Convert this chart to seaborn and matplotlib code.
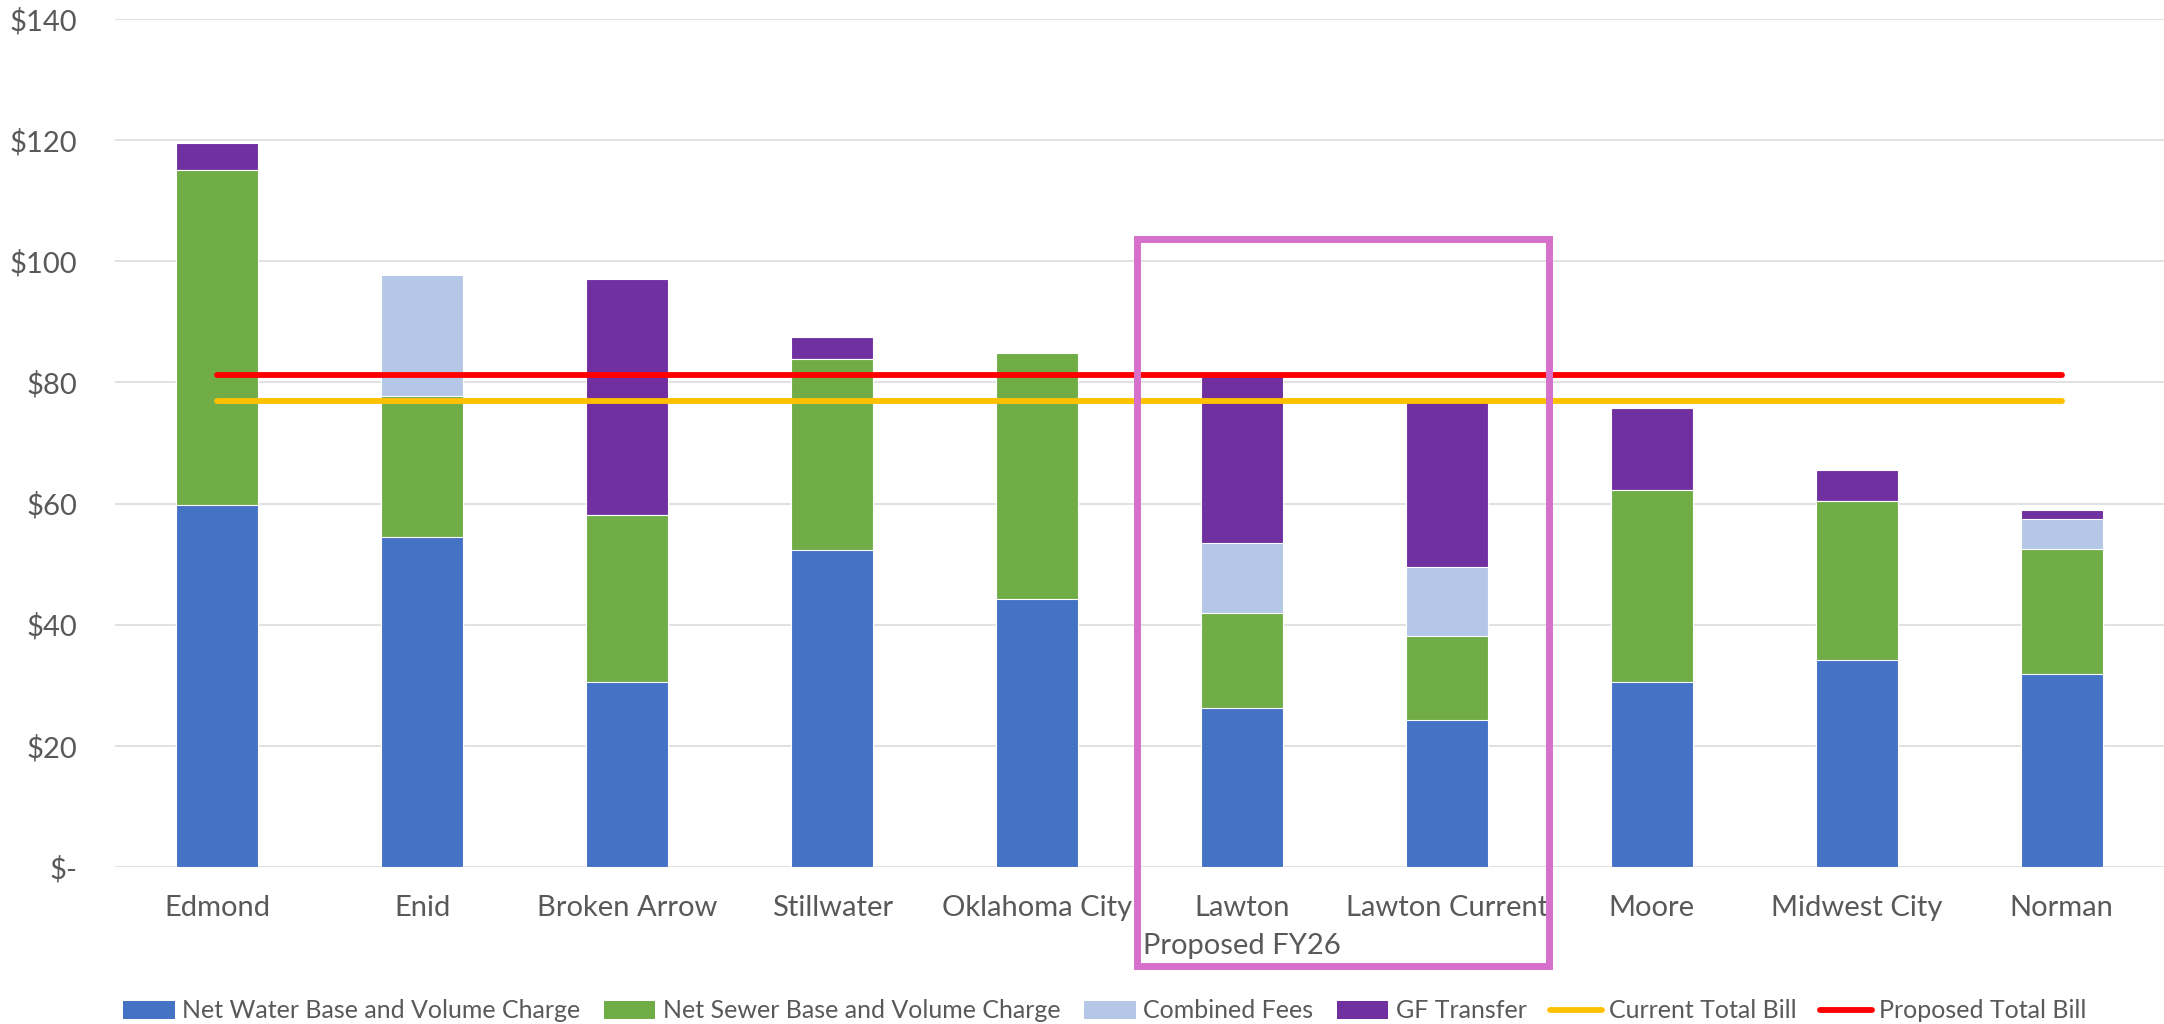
import numpy as np
import pandas as pd
import matplotlib
matplotlib.use("Agg")
import matplotlib.pyplot as plt
from matplotlib.patches import Rectangle, Patch
from matplotlib.lines import Line2D
import seaborn as sns

# Monthly residential utility bill by city, split into components
cities = ["Edmond", "Enid", "Broken Arrow", "Stillwater", "Oklahoma City",
          "Lawton\nProposed FY26", "Lawton Current", "Moore", "Midwest City", "Norman"]
water = [59.8, 54.4, 30.6, 52.3, 44.2, 26.3, 24.2, 30.6, 34.1, 31.9]
sewer = [55.3, 23.4, 27.5, 31.6, 40.7, 15.7, 13.9, 31.7, 26.3, 20.6]
fees = [0.0, 19.9, 0.0, 0.0, 0.0, 11.5, 11.5, 0.0, 0.0, 5.0]
gf_transfer = [4.5, 0.0, 39.0, 3.6, 0.0, 27.7, 27.4, 13.4, 5.2, 1.4]
current_total = [77.0, 77.0, 77.0, 77.0, 77.0, 77.0, 77.0, 77.0, 77.0, 77.0]
proposed_total = [81.2, 81.2, 81.2, 81.2, 81.2, 81.2, 81.2, 81.2, 81.2, 81.2]

y_ticks = [0, 20, 40, 60, 80, 100, 120, 140]
y_tick_labels = ["$-", "$20", "$40", "$60", "$80", "$100", "$120", "$140"]

series_names = ["Net Water Base and Volume Charge", "Net Sewer Base and Volume Charge",
                "Combined Fees", "GF Transfer"]
series_colors = ["#4472C4", "#70AD47", "#B4C7E7", "#7030A0"]
current_color = "#FFC000"
proposed_color = "#FF0000"
box_color = "#D670CA"
text_color = "#595959"

df = pd.DataFrame({"city": cities, "water": water, "sewer": sewer,
                   "fees": fees, "gf": gf_transfer})
stack = df[["water", "sewer", "fees", "gf"]].cumsum(axis=1)
stack["city"] = df["city"]

sns.set_theme(style="white")
plt.rcParams["font.family"] = ["Lato", "DejaVu Sans"]

W, H = 2164, 1024
fig = plt.figure(figsize=(W / 100, H / 100), dpi=100)
ax = fig.add_axes([115 / W, (H - 867) / H, (2164 - 115) / W, (867 - 19) / H])

# Stacked bars: draw cumulative totals from the top layer down
for col, name, color in zip(["gf", "fees", "sewer", "water"],
                            series_names[::-1], series_colors[::-1]):
    sns.barplot(data=stack, x="city", y=col, order=cities, color=color,
                saturation=1, width=0.4, errorbar=None, edgecolor="white",
                linewidth=0.8, ax=ax, zorder=3)

xpos = np.arange(len(cities))
sns.lineplot(x=xpos, y=current_total, color=current_color, linewidth=4.2,
             solid_capstyle="round", ax=ax, zorder=4)
sns.lineplot(x=xpos, y=proposed_total, color=proposed_color, linewidth=4.2,
             solid_capstyle="round", ax=ax, zorder=4)

ax.set_xlim(-0.5, 9.5)
ax.set_ylim(0, 140)
ax.set_yticks(y_ticks)
ax.set_yticklabels(y_tick_labels)
ax.set_xticks(xpos)
ax.set_xticklabels(cities)
for t in ax.get_xticklabels():
    t.set_linespacing(1.6)
ax.set_xlabel("")
ax.set_ylabel("")
ax.yaxis.grid(True, color="#D9D9D9", linewidth=1.1, zorder=0)
ax.set_axisbelow(True)
for s in ax.spines.values():
    s.set_visible(False)
ax.tick_params(axis="x", length=0, pad=20, labelsize=21, labelcolor=text_color)
ax.tick_params(axis="y", length=0, pad=27, labelsize=21, labelcolor=text_color)

# Highlight box around the two Lawton bars
ax.add_patch(Rectangle((4.49, -16.4), 2.01, 120.0, fill=False,
                       edgecolor=box_color, linewidth=5, clip_on=False, zorder=6))

handles = [Patch(facecolor=c, edgecolor="none") for c in series_colors]
handles += [Line2D([0], [0], color=current_color, linewidth=4.2, solid_capstyle="round"),
            Line2D([0], [0], color=proposed_color, linewidth=4.2, solid_capstyle="round")]
labels = series_names + ["Current Total Bill", "Proposed Total Bill"]
leg = fig.legend(handles, labels, loc="center", bbox_to_anchor=(1105 / W, 13 / H),
                 ncol=6, frameon=False, fontsize=18, handlelength=2.05,
                 handletextpad=0.3, columnspacing=0.95, borderpad=0)
for t in leg.get_texts():
    t.set_color(text_color)

fig.savefig("out.png", dpi=100)
